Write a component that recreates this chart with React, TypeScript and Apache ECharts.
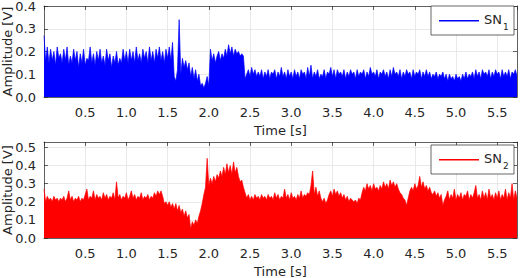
import React, { useEffect, useRef } from "react";
import * as echarts from "echarts";

// Sample spacing of both recordings, in seconds
const STEP = 0.02;
const T_MAX = 5.74;

// Sensor SN1 amplitude [V], one value per STEP starting at t = 0
const sn1: number[] = [
  0.27, 0.16, 0.22,
  0.15, 0.21, 0.16, 0.20, 0.14, 0.22, 0.17, 0.19, 0.15, 0.21,
  0.16, 0.22, 0.14, 0.18, 0.15, 0.21, 0.16, 0.20, 0.13, 0.19,
  0.15, 0.21, 0.14, 0.17, 0.16, 0.22, 0.15, 0.19, 0.14, 0.20,
  0.16, 0.21, 0.15, 0.18, 0.14, 0.21, 0.16, 0.19, 0.13, 0.18,
  0.15, 0.20, 0.14, 0.17, 0.15, 0.21, 0.16, 0.20, 0.15, 0.21,
  0.16, 0.20, 0.15, 0.22, 0.16, 0.19, 0.15, 0.21, 0.17, 0.20,
  0.15, 0.22, 0.16, 0.20, 0.15, 0.21, 0.17, 0.22, 0.16, 0.20,
  0.15, 0.21, 0.17, 0.22, 0.16,
  0.24, 0.09, 0.07, 0.12, 0.34, 0.10, 0.17,
  0.13, 0.16, 0.12, 0.15,
  0.09, 0.13, 0.08, 0.12, 0.07, 0.10,
  0.05, 0.06, 0.04, 0.06,
  0.09, 0.05, 0.21,
  0.16, 0.19, 0.15, 0.18, 0.20, 0.16, 0.19, 0.17,
  0.21, 0.18, 0.23, 0.19, 0.22, 0.18, 0.21, 0.19, 0.20, 0.18, 0.19, 0.18,
  0.08,
  0.10, 0.12, 0.09, 0.13, 0.10, 0.12, 0.09, 0.11,
  0.09, 0.12, 0.08, 0.11, 0.09, 0.12, 0.08, 0.11, 0.10, 0.12,
  0.08, 0.11, 0.09, 0.13, 0.09, 0.11, 0.08, 0.12, 0.09, 0.11,
  0.08, 0.12, 0.09, 0.11, 0.08, 0.12, 0.10, 0.11, 0.08, 0.13,
  0.09, 0.14, 0.08, 0.11, 0.09, 0.12, 0.08, 0.10, 0.09, 0.12,
  0.08, 0.11, 0.10, 0.13, 0.09, 0.12, 0.08, 0.12, 0.10, 0.11,
  0.09, 0.12, 0.08, 0.11, 0.09, 0.12, 0.10, 0.11, 0.08, 0.12,
  0.09, 0.11, 0.10, 0.12, 0.08, 0.11, 0.09, 0.13, 0.10, 0.11,
  0.09, 0.12, 0.08, 0.11, 0.10, 0.12, 0.09, 0.11, 0.08, 0.12,
  0.09, 0.13, 0.10, 0.11, 0.09, 0.12, 0.08, 0.11, 0.09, 0.12,
  0.10, 0.11, 0.08, 0.12, 0.09, 0.11, 0.10, 0.12, 0.08, 0.11,
  0.09, 0.12, 0.09, 0.11, 0.08, 0.10, 0.09, 0.11, 0.08, 0.10,
  0.09, 0.11, 0.08, 0.10, 0.07, 0.10, 0.08, 0.09, 0.07, 0.10,
  0.08, 0.09, 0.07, 0.10, 0.08, 0.11, 0.08, 0.10, 0.09, 0.11,
  0.08, 0.12, 0.09, 0.11, 0.08, 0.12, 0.10, 0.11, 0.09, 0.12,
  0.08, 0.11, 0.09, 0.12, 0.10, 0.11, 0.08, 0.12, 0.09, 0.11,
  0.09, 0.12, 0.08, 0.11, 0.10, 0.12, 0.09,
];

// Sensor SN2 amplitude [V], same time base
const sn2: number[] = [
  0.27,
  0.20, 0.23, 0.21, 0.22, 0.20, 0.23, 0.21, 0.22, 0.20, 0.22,
  0.21, 0.23, 0.20, 0.22, 0.26, 0.21, 0.23, 0.20, 0.22, 0.21,
  0.23, 0.20, 0.22, 0.21, 0.24,
  0.27, 0.21, 0.23, 0.22, 0.26, 0.21, 0.24, 0.22, 0.23, 0.21,
  0.25, 0.22, 0.24, 0.21, 0.23, 0.22, 0.25, 0.21,
  0.31,
  0.22, 0.24, 0.21, 0.23, 0.22, 0.25, 0.21, 0.23, 0.26, 0.22,
  0.24, 0.21, 0.23, 0.22, 0.25, 0.21, 0.23, 0.22, 0.24, 0.21,
  0.23, 0.22, 0.25, 0.23, 0.26,
  0.24, 0.26, 0.23,
  0.19, 0.20, 0.18, 0.20, 0.17, 0.19, 0.16, 0.19, 0.15, 0.18, 0.14, 0.16,
  0.12, 0.15, 0.11, 0.13,
  0.05,
  0.09, 0.07, 0.10, 0.08,
  0.12, 0.15, 0.19, 0.24,
  0.28, 0.44,
  0.29, 0.33, 0.30, 0.34, 0.31,
  0.35, 0.33, 0.37, 0.34, 0.39, 0.35, 0.41, 0.36, 0.40, 0.35, 0.42, 0.36, 0.39,
  0.34, 0.31, 0.32, 0.28, 0.25,
  0.22, 0.24, 0.21, 0.23, 0.21, 0.24, 0.22, 0.23, 0.21, 0.24, 0.22, 0.23, 0.21, 0.24, 0.22,
  0.23, 0.21, 0.25, 0.22, 0.24, 0.21, 0.23, 0.22, 0.27, 0.22,
  0.24, 0.21, 0.25, 0.22, 0.23, 0.21, 0.24, 0.22, 0.26, 0.22,
  0.24, 0.23, 0.25,
  0.24, 0.29, 0.37,
  0.24, 0.28, 0.23, 0.26, 0.22,
  0.20, 0.22, 0.19, 0.21,
  0.24, 0.26, 0.23, 0.27, 0.24, 0.26, 0.23, 0.25,
  0.22, 0.24, 0.21, 0.23, 0.20, 0.22, 0.21,
  0.20, 0.21, 0.19, 0.22, 0.21,
  0.25, 0.28, 0.26, 0.30, 0.27, 0.29, 0.26, 0.30, 0.27, 0.28,
  0.26, 0.29, 0.27, 0.31, 0.28, 0.30, 0.27, 0.32, 0.29, 0.31,
  0.28, 0.30, 0.27,
  0.25, 0.24, 0.22, 0.21, 0.18,
  0.22, 0.26, 0.28, 0.26, 0.30, 0.27, 0.29, 0.34, 0.28, 0.31,
  0.27, 0.29, 0.26, 0.28, 0.25,
  0.24, 0.26, 0.23, 0.25, 0.22, 0.24,
  0.18, 0.21,
  0.23, 0.26, 0.21, 0.24, 0.22, 0.27, 0.21, 0.24, 0.22, 0.25,
  0.21, 0.24, 0.23, 0.26, 0.21, 0.24, 0.22, 0.25, 0.29, 0.22,
  0.24, 0.21, 0.26, 0.22, 0.25, 0.21, 0.27, 0.22, 0.24, 0.21,
  0.25, 0.22, 0.26, 0.21, 0.24, 0.22, 0.27, 0.21, 0.25, 0.22,
  0.30, 0.21, 0.26, 0.22,
];

const seriesNames = ["SN1", "SN2"];
const seriesColors = ["#0000ff", "#ff0000"];
const yMax = [0.4, 0.53];

const FONT = "DejaVu Sans";
const INK = "#262626";
const GRID_LINE = "#e3e3e3";

const withTime = (v: number[]) => v.map((y, i) => [Math.round(i * STEP * 100) / 100, y]);

export default function App() {
  const ref = useRef<HTMLDivElement>(null);

  useEffect(() => {
    document.body.style.margin = "0";
    if (!ref.current) return;
    const chart = echarts.init(ref.current, undefined, { renderer: "svg" });

    const grids = [
      { left: 44, top: 6, width: 473, height: 91, containLabel: false, outerBoundsMode: "none" },
      { left: 44, top: 142, width: 473, height: 96, containLabel: false, outerBoundsMode: "none" },
    ];

    const fmt = (v: number) => v.toFixed(1);

    const xAxes: any[] = [];
    const yAxes: any[] = [];
    grids.forEach((_, g) => {
      xAxes.push({
        type: "value",
        gridIndex: g,
        position: "bottom",
        min: 0,
        max: T_MAX,
        interval: 0.5,
        name: "Time [s]",
        nameLocation: "middle",
        nameGap: 27,
        nameMoveOverlap: false,
        nameTextStyle: { fontFamily: FONT, fontSize: 13, color: INK },
        axisLine: { show: true, onZero: false, lineStyle: { color: INK, width: 0.7 } },
        axisTick: { show: true, inside: true, length: 4, lineStyle: { color: INK, width: 0.7 } },
        axisLabel: {
          formatter: fmt,
          showMinLabel: false,
          showMaxLabel: false,
          fontFamily: FONT,
          fontSize: 13,
          color: INK,
          margin: 9,
        },
        splitLine: { show: true, lineStyle: { color: GRID_LINE, width: 0.8 } },
      });
      xAxes.push({
        type: "value",
        gridIndex: g,
        position: "top",
        min: 0,
        max: T_MAX,
        interval: 0.5,
        axisLine: { show: true, onZero: false, lineStyle: { color: INK, width: 0.7 } },
        axisTick: { show: true, inside: true, length: 4, lineStyle: { color: INK, width: 0.7 } },
        axisLabel: { show: false },
        splitLine: { show: false },
      });
      yAxes.push({
        type: "value",
        gridIndex: g,
        position: "left",
        min: 0,
        max: yMax[g],
        interval: 0.1,
        name: "Amplitude [V]",
        nameLocation: "middle",
        nameGap: 30,
        nameMoveOverlap: false,
        nameTextStyle: { fontFamily: FONT, fontSize: 13, color: INK },
        axisLine: { show: true, onZero: false, lineStyle: { color: INK, width: 0.7 } },
        axisTick: { show: true, inside: true, length: 4, lineStyle: { color: INK, width: 0.7 } },
        axisLabel: {
          formatter: fmt,
          showMaxLabel: g === 0,
          fontFamily: FONT,
          fontSize: 13,
          color: INK,
          margin: 8,
        },
        splitLine: { show: true, lineStyle: { color: GRID_LINE, width: 0.8 } },
      });
      yAxes.push({
        type: "value",
        gridIndex: g,
        position: "right",
        min: 0,
        max: yMax[g],
        interval: 0.1,
        axisLine: { show: true, onZero: false, lineStyle: { color: INK, width: 0.7 } },
        axisTick: { show: true, inside: true, length: 4, lineStyle: { color: INK, width: 0.7 } },
        axisLabel: { show: false },
        splitLine: { show: false },
      });
    });

    const data = [sn1, sn2];
    const series = data.map((values, g) => ({
      type: "line",
      name: seriesNames[g],
      xAxisIndex: g * 2,
      yAxisIndex: g * 2,
      data: withTime(values),
      symbol: "none",
      lineStyle: { color: seriesColors[g], width: 0.7 },
      areaStyle: { color: seriesColors[g], opacity: 1 },
      z: 3,
    }));

    // Boxed legends with subscripted sensor labels
    const legendTops = [6, 145];
    const graphic: any[] = [];
    legendTops.forEach((top, g) => {
      const mid = top + 14;
      graphic.push(
        {
          type: "rect",
          z: 100,
          shape: { x: 431, y: top, width: 83, height: 29 },
          style: { fill: "#ffffff", stroke: INK, lineWidth: 0.7 },
        },
        {
          type: "rect",
          z: 101,
          shape: { x: 439, y: mid, width: 40, height: 1.4 },
          style: { fill: seriesColors[g] },
        },
        {
          type: "text",
          z: 101,
          x: 484,
          y: mid - 0.5,
          style: {
            text: seriesNames[g].slice(0, 2),
            fontFamily: FONT,
            fontSize: 13,
            fill: INK,
            verticalAlign: "middle",
          },
        },
        {
          type: "text",
          z: 101,
          x: 503,
          y: mid + 6.5,
          style: {
            text: seriesNames[g].slice(2),
            fontFamily: FONT,
            fontSize: 9,
            fill: INK,
            verticalAlign: "middle",
          },
        }
      );
    });

    chart.setOption({
      animation: false,
      backgroundColor: "#ffffff",
      grid: grids,
      xAxis: xAxes,
      yAxis: yAxes,
      series,
      graphic,
    });

    return () => chart.dispose();
  }, []);

  return <div ref={ref} style={{ width: 520, height: 278 }} />;
}
